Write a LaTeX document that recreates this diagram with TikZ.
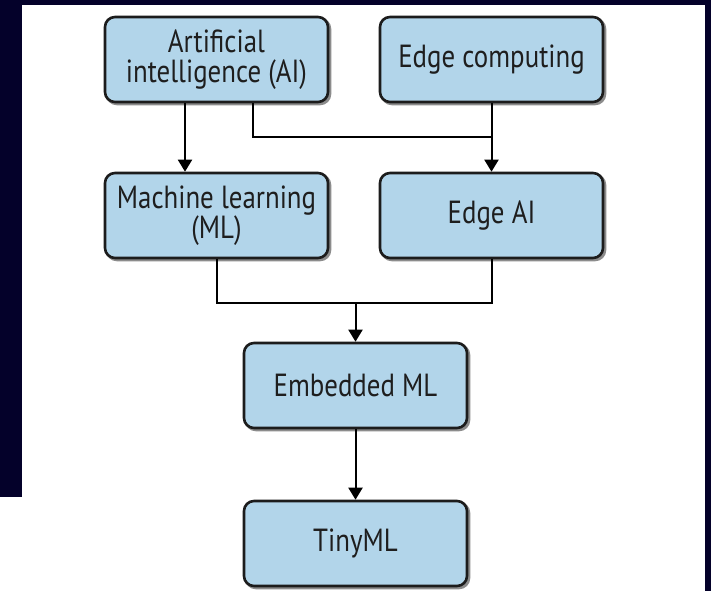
\documentclass[tikz,border=0pt]{standalone}
\usepackage{fontspec}
\setmainfont{PT Sans}[FakeStretch=0.84]
\usetikzlibrary{arrows.meta}
\definecolor{navy}{HTML}{04012A}
\definecolor{boxfill}{HTML}{B2D5EA}
\definecolor{boxline}{HTML}{1C1C1C}
\definecolor{txt}{HTML}{1E1E1E}
\tikzset{
  box/.style={draw=boxline, line width=2.6pt, fill=boxfill, rounded corners=10pt,
    minimum width=223pt, minimum height=85pt, inner sep=0pt, align=center,
    text=txt, font=\fontsize{32}{30}\selectfont},
  shadowed/.style={preaction={draw=black!45, fill=black!45, line width=2.6pt, rounded corners=10pt, transform canvas={shift={(2pt,-2pt)}}}},
  conn/.style={draw=black, line width=2pt},
  arr/.style={conn, -{Triangle[width=14pt,length=12pt]}}
}
\begin{document}
\begin{tikzpicture}[x=1pt,y=-1pt]
\useasboundingbox (0,0) rectangle (711,591);
% background
\fill[white] (0,0) rectangle (711,591);
\fill[navy] (0,0) rectangle (711,5);
\fill[navy] (0,0) rectangle (22,497);
\fill[navy] (705,0) rectangle (711,591);
% nodes
\node[box, shadowed] (ai) at (216.5,59.5) {Artificial\\intelligence (AI)};
\node[box, shadowed] (edge) at (491.5,59.5) {Edge computing};
\node[box, shadowed] (ml) at (216.5,215.5) {Machine learning\\(ML)};
\node[box, shadowed] (edgeai) at (491.5,215.5) {Edge AI};
\node[box, shadowed] (emb) at (355.5,385.5) {Embedded ML};
\node[box, shadowed] (tiny) at (355.5,543.5) {TinyML};
% junction coordinates
\coordinate (aiL) at ([xshift=-31.5pt]ai.south);
\coordinate (aiR) at ([xshift=36.5pt]ai.south);
\coordinate (j1) at (491.5,137);
\coordinate (j2) at (355.5,303);
% connectors
\draw[arr] (aiL) -- (aiL |- ml.north);
\draw[arr] (edge.south) -- (edgeai.north);
\draw[conn] (aiR) |- (j1);
\draw[conn] (ml.south) |- (j2);
\draw[conn] (edgeai.south) |- (j2);
\draw[arr] (j2) -- (emb.north);
\draw[arr] (emb.south) -- (tiny.north);
\end{tikzpicture}
\end{document}
